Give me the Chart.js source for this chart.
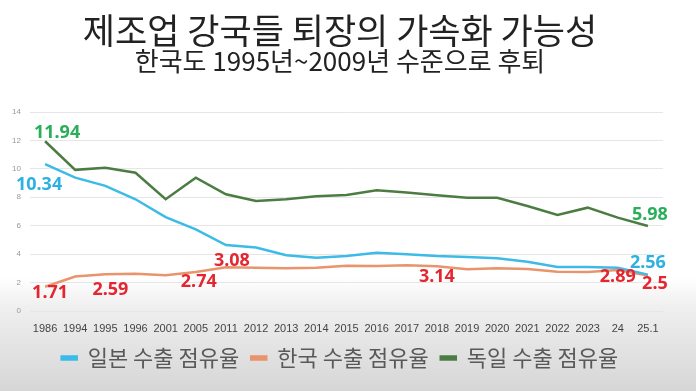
<!DOCTYPE html>
<html>
<head>
<meta charset="utf-8">
<script src="https://cdn.jsdelivr.net/npm/chart.js@4.4.1/dist/chart.umd.min.js"></script>
<style>
  html, body { margin: 0; padding: 0; }
  body {
    width: 696px; height: 391px; overflow: hidden;
    background: linear-gradient(to bottom, #ffffff 0%, #ffffff 71%, #f0f0f0 78%, #d6d6d6 100%);
  }
  #wrap { width: 696px; height: 391px; }
</style>
</head>
<body>
<div id="wrap"><canvas id="lineChart"></canvas></div>
<script>
// 카테고리 (x축)
var years = ['1986','1994','1995','1996','2001','2005','2011','2012','2013','2014','2015',
             '2016','2017','2018','2019','2020','2021','2022','2023','24','25.1'];

// 수출 점유율 (%)
var japanShare   = [10.34, 9.38, 8.80, 7.86, 6.61, 5.75, 4.64, 4.46, 3.92, 3.75, 3.87,
                    4.10, 3.99, 3.87, 3.80, 3.71, 3.47, 3.10, 3.10, 3.05, 2.56];
var koreaShare   = [1.71, 2.42, 2.59, 2.62, 2.51, 2.74, 3.08, 3.05, 3.00, 3.05, 3.18,
                    3.17, 3.22, 3.14, 2.93, 3.00, 2.95, 2.77, 2.75, 2.89, 2.5];
var germanyShare = [11.94, 9.93, 10.08, 9.73, 7.86, 9.38, 8.21, 7.74, 7.86, 8.07, 8.16,
                    8.49, 8.33, 8.14, 7.97, 7.97, 7.39, 6.76, 7.27, 6.57, 5.98];

var yTicks = [0, 2, 4, 6, 8, 10, 12, 14];

// 값 라벨: [데이터셋, 인덱스, dx, dy]
var valueLabels = [
	[2, 0, 12, -8], [2, 20, 2, -11],
	[0, 0, -6, 21], [0, 20, 0, -12],
	[1, 0, 5, 6], [1, 2, 5, 16], [1, 5, 3, 10], [1, 6, 6, -6],
	[1, 13, 0, 11], [1, 19, 0, 7], [1, 20, 7, 8]
];
var labelColors = ['#2db0e2', '#e3262f', '#2aae5a'];

var valueLabelPlugin = {
	id: 'valueLabels',
	afterDatasetsDraw: function(chart) {
		var ctx = chart.ctx;
		ctx.save();
		ctx.font = 'bold 18px "Noto Sans", "Open Sans", sans-serif';
		ctx.textAlign = 'center';
		ctx.textBaseline = 'middle';
		valueLabels.forEach(function(l) {
			var pt = chart.getDatasetMeta(l[0]).data[l[1]];
			var v = chart.data.datasets[l[0]].data[l[1]];
			ctx.fillStyle = labelColors[l[0]];
			ctx.fillText(String(v), pt.x + l[2], pt.y + l[3]);
		});
		ctx.restore();
	}
};

var data = {
	labels: years,
	datasets: [
		{ label: '일본 수출 점유율', data: japanShare, borderColor: '#3dbbe8', backgroundColor: '#3dbbe8' },
		{ label: '한국 수출 점유율', data: koreaShare, borderColor: '#e8946c', backgroundColor: '#e8946c' },
		{ label: '독일 수출 점유율', data: germanyShare, borderColor: '#4b7d42', backgroundColor: '#4b7d42' }
	]
};
data.datasets.forEach(function(ds) {
	ds.borderWidth = 2.5;
	ds.pointRadius = 0;
	ds.tension = 0;
});

var options = {
	responsive: true,
	maintainAspectRatio: false,
	animation: false,
	layout: { padding: { left: 0, right: 16, top: 0, bottom: 12 } },
	plugins: {
		title: {
			display: true,
			text: '제조업 강국들 퇴장의 가속화 가능성',
			color: '#222222',
			font: { family: '"Noto Sans CJK KR", sans-serif', size: 35, weight: 'normal', lineHeight: 1 },
			padding: { top: 13, bottom: 0 }
		},
		subtitle: {
			display: true,
			text: '한국도 1995년~2009년 수준으로 후퇴',
			color: '#222222',
			font: { family: '"Noto Sans CJK KR", sans-serif', size: 26, weight: 'normal', lineHeight: 1 },
			padding: { top: 0, bottom: 38 }
		},
		legend: {
			position: 'bottom',
			labels: {
				boxWidth: 15,
				boxHeight: 3,
				padding: 12,
				color: '#595959',
				font: { family: '"Noto Sans CJK KR", sans-serif', size: 22 }
			}
		},
		tooltip: { enabled: false }
	},
	scales: {
		x: {
			offset: true,
			afterFit: function(scale) { scale.height = 24; },
			grid: { display: false, drawTicks: false },
			border: { display: false },
			ticks: {
				autoSkip: false, maxRotation: 0, padding: 11,
				color: '#444444',
				font: { family: '"Liberation Sans Narrow", "Liberation Sans", sans-serif', size: 11 }
			}
		},
		y: {
			min: 0, max: 14,
			afterFit: function(scale) { scale.width = 30; },
			afterBuildTicks: function(scale) { scale.ticks = yTicks.map(function(v) { return { value: v }; }); },
			grid: { color: '#e6e6e6', lineWidth: 1, drawTicks: false },
			border: { display: false },
			ticks: { padding: 9, color: '#999999', font: { family: 'Liberation Sans', size: 8 } }
		},
		// 오른쪽 여백용 빈 축
		yRight: {
			position: 'right',
			min: 0, max: 14,
			afterFit: function(scale) { scale.width = 17; },
			grid: { display: false, drawTicks: false },
			border: { display: false },
			ticks: { display: false }
		}
	}
};

var ctx = document.getElementById('lineChart');
var myLineChart = new Chart(ctx, {
	type: 'line',
	data: data,
	options: options,
	plugins: [valueLabelPlugin]
});
</script>
</body>
</html>
